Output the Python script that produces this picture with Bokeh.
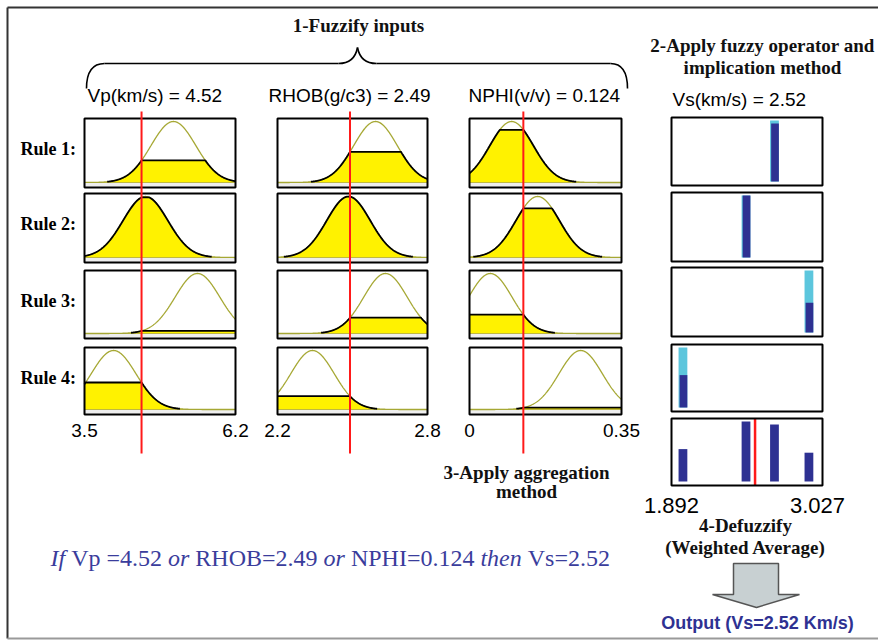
import numpy as np
from bokeh.plotting import figure
from bokeh.models import Range1d
from bokeh.core.properties import value
from bokeh.embed import file_html
from bokeh.resources import INLINE

# ---------------- data ----------------
input_names = ["Vp(km/s)", "RHOB(g/c3)", "NPHI(v/v)"]
input_values = [4.52, 2.49, 0.124]
input_ranges = [(3.5, 6.2), (2.2, 2.8), (0.0, 0.35)]
input_tick_labels = [("3.5", "6.2"), ("2.2", "2.8"), ("0", "0.35")]
# gaussian membership functions, one per rule (centre) and one width per input
vp_centers = [5.09, 4.59, 5.52, 4.02]
vp_sigma = 0.40
rhob_centers = [2.592, 2.484, 2.632, 2.34]
rhob_sigma = 0.087
nphi_centers = [0.097, 0.157, 0.048, 0.256]
nphi_sigma = 0.05
rule_labels = ["Rule 1:", "Rule 2:", "Rule 3:", "Rule 4:"]
output_name = "Vs(km/s)"
output_value = 2.52
output_range = (1.892, 3.027)
output_tick_labels = ("1.892", "3.027")
vs_consequents = [2.666, 2.452, 2.925, 1.978]
rule_strengths = [0.95, 1.0, 0.48, 0.54]

# ---------------- styles / layout ----------------
SERIF = value("Liberation Serif")
SANS = value("Liberation Sans")
YELLOW = "#fff200"
OLIVE = "#a6a834"
RED = "#ff1a1a"
CYAN = "#5cc6dd"
NAVY = "#2e3192"
BLUE_TXT = "#3a3d9c"

col_x = [(84, 235), (277, 427), (469, 621)]
row_top = [118, 193, 270, 347]
row_bot = [187, 262, 338, 414]
out_x = (671, 822)
out_top = [117, 192, 267, 344, 418]
out_bot = [185, 261, 336, 411, 485]

p = figure(width=878, height=640, x_range=Range1d(0, 878), y_range=Range1d(640, 0),
           x_axis_location=None, y_axis_location=None, toolbar_location=None,
           output_backend="svg", min_border=0)
p.grid.visible = False
p.outline_line_color = None
p.background_fill_color = "white"

# outer frame
p.segment(x0=[7, 7], y0=[7, 7], x1=[7, 878], y1=[638, 7], line_color="#333333", line_width=2)
p.segment(x0=[7], y0=[638], x1=[878], y1=[638], line_color="#9a9a9a", line_width=2)

# ---------------- input panels ----------------
centers_all = [vp_centers, rhob_centers, nphi_centers]
sigmas = [vp_sigma, rhob_sigma, nphi_sigma]
for j in range(3):
    lo, hi = input_ranges[j]
    x0, x1 = col_x[j]
    xs = np.linspace(lo, hi, 400)
    for i in range(4):
        top, bot = row_top[i], row_bot[i]
        p.quad(left=[x0], right=[x1], top=[top], bottom=[bot], fill_color="white", line_color=None)
        p.quad(left=[x0], right=[x1], top=[bot - 5], bottom=[bot], fill_color="#eeeeee", line_color=None)
        p.segment(x0=[x0], y0=[bot - 5], x1=[x1], y1=[bot - 5], line_color="#808080", line_width=1)
        sub = p.subplot(x_source=Range1d(lo, hi), y_source=Range1d(0, 1),
                        x_target=Range1d(x0, x1), y_target=Range1d(bot - 5, top + 3))
        c = centers_all[j][i]
        s = sigmas[j]
        mf = np.exp(-(xs - c) ** 2 / (2 * s * s))
        level = float(np.exp(-(input_values[j] - c) ** 2 / (2 * s * s)))
        clipped = np.minimum(mf, level)
        sub.varea(x=xs, y1=np.zeros_like(xs), y2=clipped, fill_color=YELLOW)
        sub.line(xs, mf, line_color=OLIVE, line_width=1.3)
        m = mf > 0.012
        sub.line(xs[m], clipped[m], line_color="black", line_width=1.8)
        p.quad(left=[x0], right=[x1], top=[top], bottom=[bot], fill_color=None,
               line_color="black", line_width=2)
        if i == 3:
            sub.text(x=[lo, hi], y=[0, 0], text=list(input_tick_labels[j]), text_align="center",
                     text_baseline="middle", y_offset=21, text_font=SANS,
                     text_font_size="19px", text_color="black")

# ---------------- output panels ----------------
lo, hi = output_range
bw = 0.066
for i in range(5):
    top, bot = out_top[i], out_bot[i]
    p.quad(left=[out_x[0]], right=[out_x[1]], top=[top], bottom=[bot], fill_color="white", line_color=None)
    sub = p.subplot(x_source=Range1d(lo, hi), y_source=Range1d(0, 1),
                    x_target=Range1d(*out_x), y_target=Range1d(bot - 4, top + 3))
    if i < 4:
        sub.vbar(x=[vs_consequents[i]], width=bw, top=[1.0], bottom=[0.0], fill_color=CYAN, line_color=None)
        sub.vbar(x=[vs_consequents[i] + 0.004], width=bw - 0.008, top=[rule_strengths[i]], bottom=[0.0],
                 fill_color=NAVY, line_color=None)
    else:
        sub.vbar(x=vs_consequents, width=bw, top=rule_strengths, bottom=0.0, fill_color=NAVY, line_color=None)
        sub_r = p.subplot(x_source=Range1d(lo, hi), y_source=Range1d(0, 1),
                          x_target=Range1d(*out_x), y_target=Range1d(bot, top))
        sub_r.segment(x0=[output_value], y0=[0], x1=[output_value], y1=[1], line_color=RED, line_width=2.5)
        sub.text(x=[lo], y=[0], text=[output_tick_labels[0]], text_align="center", text_baseline="middle",
                 y_offset=24, text_font=SANS, text_font_size="22px", text_color="black")
        sub.text(x=[hi], y=[0], text=[output_tick_labels[1]], text_align="center", text_baseline="middle",
                 y_offset=24, x_offset=-5, text_font=SANS, text_font_size="22px", text_color="black")
    p.quad(left=[out_x[0]], right=[out_x[1]], top=[top], bottom=[bot], fill_color=None,
           line_color="black", line_width=2)

# red input lines across the rules
for j in range(3):
    lo_i, hi_i = input_ranges[j]
    x0, x1 = col_x[j]
    sub_r = p.subplot(x_source=Range1d(lo_i, hi_i), y_source=Range1d(0, 1),
                      x_target=Range1d(x0, x1), y_target=Range1d(453, 111))
    sub_r.segment(x0=[input_values[j]], y0=[0], x1=[input_values[j]], y1=[1], line_color=RED, line_width=2)

# ---------------- headers ----------------
header_x = [87, 268, 468, 672]
header_y = [95, 95, 95, 99]
headers = [f"{input_names[j]} = {input_values[j]}" for j in range(3)] + [f"{output_name} = {output_value}"]
p.text(x=header_x, y=header_y, text=headers, text_align="left", text_baseline="middle",
       text_font=SANS, text_font_size="19px", text_color="black")

p.text(x=[20] * 4, y=[148, 223, 300, 377], text=rule_labels, text_align="left", text_baseline="middle",
       text_font=SERIF, text_font_style="bold", text_font_size="18px", text_color="black")

titles = ["1-Fuzzify inputs", "2-Apply fuzzy operator and", "implication method",
          "3-Apply aggregation", "method", "4-Defuzzify", "(Weighted Average)"]
title_x = [358, 762, 762, 526, 526, 745, 745]
title_y = [25, 45, 67, 472, 491, 525, 547]
p.text(x=title_x, y=title_y, text=titles, text_align="center", text_baseline="middle",
       text_font=SERIF, text_font_style="bold", text_font_size="19px", text_color="#111111")

# brace
p.quadratic(x0=[86, 338, 357, 610], y0=[88, 63, 47, 63], x1=[104, 357, 376, 627], y1=[63, 47, 63, 88],
            cx=[86, 354, 360, 627], cy=[63, 63, 63, 63], line_color="black", line_width=1.6)
p.segment(x0=[104, 376], y0=[63, 63], x1=[338, 610], y1=[63, 63], line_color="black", line_width=1.6)

# rule sentence (mixed italic)
reg_w = {' ': 250, 'V': 722, 'p': 500, '=': 564, '.': 250, 'R': 667, 'H': 722, 'O': 722, 'B': 667,
         'N': 722, 'P': 556, 'I': 333, 's': 389}
ita_w = {'I': 333, 'f': 278, 'o': 500, 'r': 389, 't': 278, 'h': 500, 'e': 444, 'n': 500, ' ': 250}
segments = [("If", True), (f" Vp ={input_values[0]} ", False), ("or", True),
            (f" RHOB={input_values[1]} ", False), ("or", True),
            (f" NPHI={input_values[2]} ", False), ("then", True), (f" Vs={output_value}", False)]
fs = 24
cx = 50.0
for s, ital in segments:
    table = ita_w if ital else reg_w
    lead = len(s) - len(s.lstrip())
    body = s.strip()
    p.text(x=[cx + lead * 250 * fs / 1000], y=[557], text=[body], text_align="left", text_baseline="middle",
           text_font=SERIF, text_font_style="italic" if ital else "normal",
           text_font_size=f"{fs}px", text_color=BLUE_TXT)
    cx += sum(table.get(ch, 500) for ch in s) * fs / 1000

# arrow
p.patch(x=[733, 778, 778, 799, 756, 712, 733], y=[563, 563, 594, 594, 607, 594, 594],
        fill_color="#c8d0d2", line_color="#555555", line_width=1.5)
p.text(x=[757], y=[622], text=[f"Output (Vs={output_value} Km/s)"], text_align="center",
       text_baseline="middle", text_font=SANS, text_font_style="bold", text_font_size="18px",
       text_color=NAVY)

open("out.html", "w").write(file_html(p, INLINE))
